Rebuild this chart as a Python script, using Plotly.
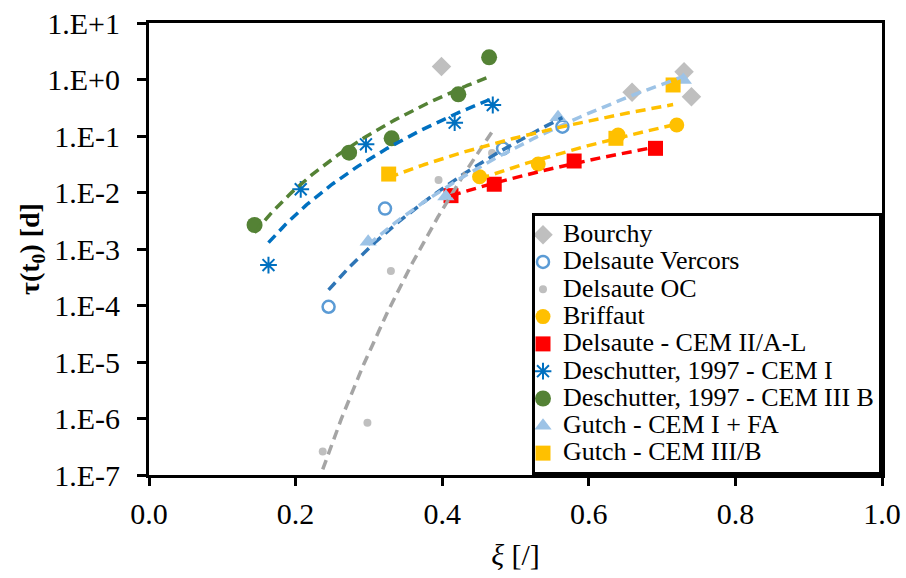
import numpy as np
import plotly.graph_objects as go

# ---------------- data ----------------
bourchy_x = [0.399, 0.659, 0.730, 0.740]
bourchy_y = [1.69, 0.593, 1.37, 0.497]

vercors_x = [0.245, 0.322, 0.483, 0.564]
vercors_y = [9.5e-5, 5.2e-3, 0.060, 0.146]

oc_x = [0.237, 0.298, 0.330, 0.395, 0.468]
oc_y = [2.6e-7, 8.4e-7, 4.1e-4, 0.0166, 0.050]

briffaut_x = [0.451, 0.531, 0.640, 0.720]
briffaut_y = [0.019, 0.032, 0.104, 0.157]

cem2_x = [0.412, 0.471, 0.580, 0.691]
cem2_y = [0.0088, 0.0140, 0.0361, 0.0605]

cem1_x = [0.163, 0.207, 0.296, 0.417, 0.469]
cem1_y = [5.2e-4, 0.0114, 0.0713, 0.172, 0.354]

cem3b_x = [0.144, 0.273, 0.331, 0.422, 0.464]
cem3b_y = [2.66e-3, 0.0507, 0.091, 0.547, 2.47]

gutchfa_x = [0.299, 0.405, 0.558, 0.729]
gutchfa_y = [1.35e-3, 8.5e-3, 0.214, 0.98]

gutch3b_x = [0.327, 0.637, 0.715]
gutch3b_y = [0.0212, 0.091, 0.80]

y_tickvals = [1e-7, 1e-6, 1e-5, 1e-4, 1e-3, 1e-2, 1e-1, 1e0, 1e1]
y_ticktext = ["1.E-7", "1.E-6", "1.E-5", "1.E-4", "1.E-3", "1.E-2", "1.E-1", "1.E+0", "1.E+1"]

FONT = "Liberation Serif, Times New Roman, serif"
LEG_TXT = '<span style="font-size:26px">{}</span>'

series = [
    dict(name="Bourchy", x=bourchy_x, y=bourchy_y,
         marker=dict(symbol="diamond", size=15, color="#BFBFBF"), trend=None),
    dict(name="Delsaute Vercors", x=vercors_x, y=vercors_y,
         marker=dict(symbol="circle-open", size=12, color="#5B9BD5",
                     line=dict(width=2.5, color="#5B9BD5")), trend="#2E75B6"),
    dict(name="Delsaute OC", x=oc_x, y=oc_y,
         marker=dict(symbol="circle", size=8, color="#BFBFBF"), trend="#A5A5A5"),
    dict(name="Briffaut", x=briffaut_x, y=briffaut_y,
         marker=dict(symbol="circle", size=15, color="#FFC000"), trend="#FFC000"),
    dict(name="Delsaute - CEM II/A-L", x=cem2_x, y=cem2_y,
         marker=dict(symbol="square", size=15, color="#FF0000"), trend="#FF0000"),
    dict(name="Deschutter, 1997 - CEM I", x=cem1_x, y=cem1_y,
         marker=dict(symbol="asterisk-open", size=14, color="#0070C0",
                     line=dict(width=2, color="#0070C0")), trend="#0070C0"),
    dict(name="Deschutter, 1997 - CEM III B", x=cem3b_x, y=cem3b_y,
         marker=dict(symbol="circle", size=16, color="#548235"), trend="#548235"),
    dict(name="Gutch - CEM I + FA", x=gutchfa_x, y=gutchfa_y,
         marker=dict(symbol="triangle-up", size=15, color="#9DC3E6"), trend="#9DC3E6"),
    dict(name="Gutch - CEM III/B", x=gutch3b_x, y=gutch3b_y,
         marker=dict(symbol="square", size=15, color="#FFC000"), trend="#FFC000"),
]

fig = go.Figure()

for s in series:
    fig.add_trace(go.Scatter(x=s["x"], y=s["y"], mode="markers",
                             name=LEG_TXT.format(s["name"]),
                             marker=s["marker"], showlegend=True))

# power-law trendlines (least squares in log-log space), drawn over the markers
for s in series:
    if s["trend"] is None:
        continue
    lx = np.log10(np.array(s["x"]))
    ly = np.log10(np.array(s["y"]))
    b, a = np.polyfit(lx, ly, 1)
    xs = np.linspace(min(s["x"]), max(s["x"]), 120)
    ys = 10 ** (a + b * np.log10(xs))
    fig.add_trace(go.Scatter(x=xs, y=ys, mode="lines", showlegend=False, hoverinfo="skip",
                             line=dict(color=s["trend"], width=3.5, dash="10px,6px")))

fig.update_layout(
    width=906, height=578,
    margin=dict(l=149, r=24, t=23, b=103),
    paper_bgcolor="white", plot_bgcolor="white",
    font=dict(family=FONT, color="black", size=30),
    legend=dict(x=1, y=0, xanchor="right", yanchor="bottom",
                bgcolor="white", bordercolor="black", borderwidth=3,
                font=dict(family=FONT, size=18.7, color="black"),
                tracegroupgap=0, itemwidth=30, indentation=-12),
)

fig.update_xaxes(range=[0, 1], dtick=0.2, tickformat=".1f", automargin=False,
                 showgrid=False, zeroline=False,
                 showline=True, linewidth=3, linecolor="black", mirror=True,
                 ticks="outside", ticklen=8, tickwidth=3, tickcolor="black",
                 ticklabelstandoff=2,
                 tickfont=dict(family=FONT, size=30),
                 title=dict(text="<i>ξ</i> [/]", font=dict(family=FONT, size=30), standoff=15))

fig.update_yaxes(type="log", range=[-7, 1], tickvals=y_tickvals, ticktext=y_ticktext,
                 automargin=False,
                 showgrid=False, zeroline=False,
                 showline=True, linewidth=3, linecolor="black", mirror=True,
                 ticks="outside", ticklen=9, tickwidth=3, tickcolor="black",
                 ticklabelstandoff=11,
                 tickfont=dict(family=FONT, size=30),
                 title=dict(text="<b>τ(t<sub>0</sub>) [d]</b>", font=dict(family=FONT, size=28),
                            standoff=0))

fig.write_html("out.html")
